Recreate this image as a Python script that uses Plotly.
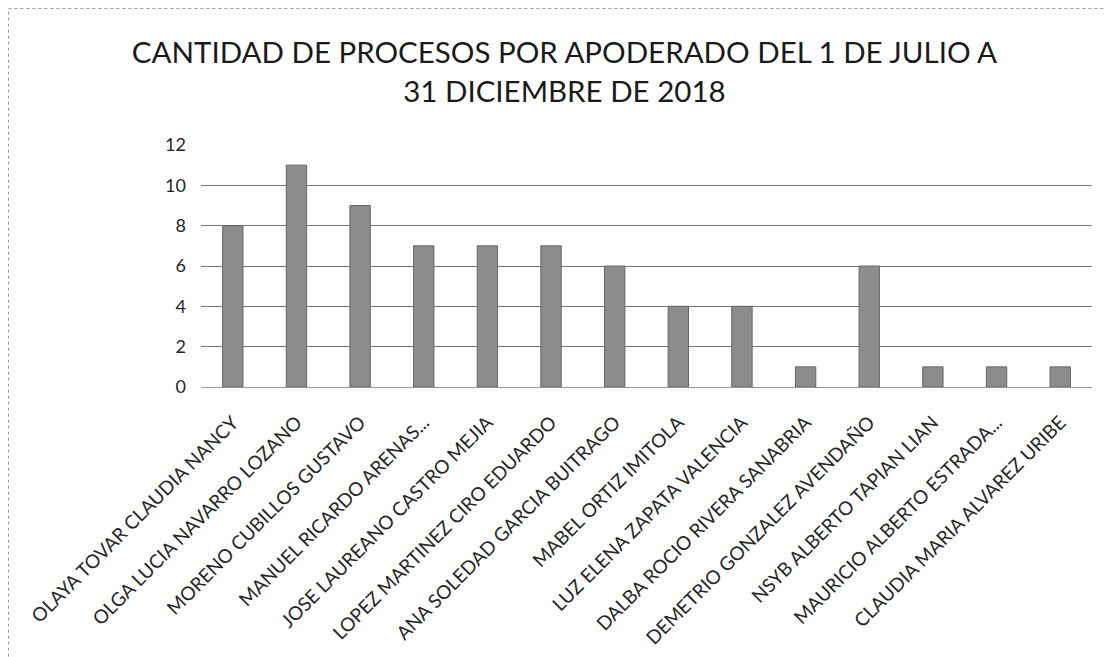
import plotly.graph_objects as go

categories = [
    "OLAYA TOVAR CLAUDIA NANCY",
    "OLGA LUCIA NAVARRO LOZANO",
    "MORENO CUBILLOS GUSTAVO",
    "MANUEL RICARDO ARENAS...",
    "JOSE LAUREANO CASTRO MEJIA",
    "LOPEZ MARTINEZ CIRO EDUARDO",
    "ANA SOLEDAD GARCIA BUITRAGO",
    "MABEL ORTIZ IMITOLA",
    "LUZ ELENA ZAPATA VALENCIA",
    "DALBA ROCIO RIVERA SANABRIA",
    "DEMETRIO GONZALEZ AVENDAÑO",
    "NSYB ALBERTO TAPIAN LIAN",
    "MAURICIO ALBERTO ESTRADA...",
    "CLAUDIA MARIA ALVAREZ URIBE",
]
values = [8, 11, 9, 7, 7, 7, 6, 4, 4, 1, 6, 1, 1, 1]
y_ticks = [0, 2, 4, 6, 8, 10, 12]

title_text = "CANTIDAD DE PROCESOS POR APODERADO DEL 1 DE JULIO A<br>31 DICIEMBRE DE 2018"

fig = go.Figure()
fig.add_trace(go.Bar(
    x=categories,
    y=values,
    marker=dict(color="#8c8c8c", line=dict(color="#666666", width=1)),
    width=0.32,
))

font_family = "Lato, Open Sans, sans-serif"

fig.update_layout(
    width=1104,
    height=649,
    margin=dict(l=193, r=20, t=137, b=270, autoexpand=False),
    paper_bgcolor="white",
    plot_bgcolor="white",
    showlegend=False,
    title=dict(
        text=title_text,
        x=0.504,
        xanchor="center",
        y=0.915,
        yanchor="top",
        font=dict(family=font_family, size=29.5, color="#1a1a1a"),
    ),
    xaxis=dict(
        tickangle=-45,
        tickfont=dict(family=font_family, size=19, color="#262626"),
        showgrid=False,
        showline=True,
        linecolor="#999999",
        linewidth=1,
        ticks="",
        ticklabelstandoff=16,
        automargin=False,
    ),
    yaxis=dict(
        range=[0, 12],
        tickvals=y_ticks,
        tickfont=dict(family=font_family, size=18, color="#262626"),
        showgrid=True,
        gridcolor="#777777",
        gridwidth=1,
        zeroline=False,
        showline=False,
        ticks="",
        ticklabelstandoff=14,
        automargin=False,
    ),
    shapes=[
        dict(type="rect", xref="paper", yref="paper",
             x0=-0.216, x1=1.05, y0=-1.2, y1=1.564,
             line=dict(color="#999999", width=1, dash="dot")),
    ],
)

fig.write_html("out.html")
